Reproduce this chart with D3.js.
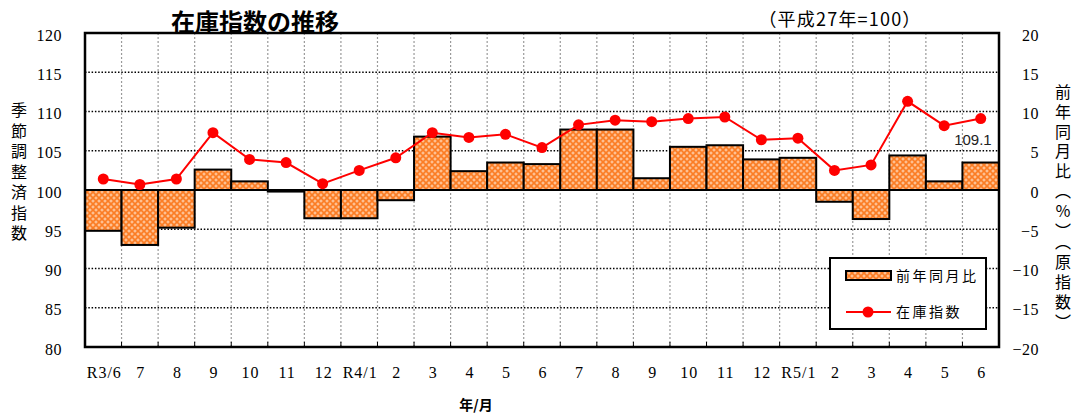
<!DOCTYPE html>
<html>
<head>
<meta charset="utf-8">
<script src="https://cdn.jsdelivr.net/npm/d3@7"></script>
<style>
  body { margin: 0; background: #fff; }
  #chart { width: 1074px; height: 414px; }
  .serif { font-family: "Liberation Serif", "DejaVu Serif", serif; }
  .jp { font-family: "Noto Sans CJK JP", "Noto Sans", sans-serif; }
  .sans { font-family: "Liberation Sans", Arial, sans-serif; }
</style>
</head>
<body>
<div id="chart"></div>
<script>
// data
const months = ["R3/6","7","8","9","10","11","12","R4/1","2","3","4","5","6",
                "7","8","9","10","11","12","R5/1","2","3","4","5","6"];
// 前年同月比 (%) - right axis
const yoy = [-5.2, -7.0, -4.8, 2.6, 1.1, -0.2, -3.6, -3.6, -1.3, 6.8, 2.4, 3.5, 3.3,
             7.7, 7.7, 1.5, 5.5, 5.7, 3.9, 4.1, -1.5, -3.7, 4.4, 1.1, 3.5];
// 在庫指数 (季節調整済) - left axis
const stock = [101.4, 100.7, 101.4, 107.3, 103.9, 103.5, 100.8, 102.5, 104.1, 107.3, 106.7, 107.1, 105.4,
               108.3, 108.9, 108.7, 109.1, 109.3, 106.4, 106.6, 102.5, 103.2, 111.3, 108.2, 109.1];
const leftTicks = [80, 85, 90, 95, 100, 105, 110, 115, 120];
const rightTicks = [-20, -15, -10, -5, 0, 5, 10, 15, 20];

const width = 1074, height = 414;
const margin = {top: 33, left: 85, right: 75, bottom: 67};

const svg = d3.select("#chart").append("svg")
    .attr("width", width)
    .attr("height", height);

// pattern for bars
const defs = svg.append("defs");
const pat = defs.append("pattern")
    .attr("id", "hatch")
    .attr("patternUnits", "userSpaceOnUse")
    .attr("width", 6).attr("height", 6);
pat.append("rect").attr("width", 6).attr("height", 6).attr("fill", "#fb7d24");
[[0,0],[6,0],[0,6],[6,6],[3,3]].forEach(function(p) {
    pat.append("rect").attr("x", p[0] - 1.5).attr("y", p[1] - 0.5).attr("width", 3).attr("height", 1).attr("fill", "#ffd6b5");
    pat.append("rect").attr("x", p[0] - 0.5).attr("y", p[1] - 1.5).attr("width", 1).attr("height", 3).attr("fill", "#ffd6b5");
});

// scales
const xScale = d3.scaleBand()
    .domain(d3.range(months.length))
    .range([margin.left, width - margin.right])
    .padding(0);

const yLeft = d3.scaleLinear()
    .domain([80, 120])
    .range([height - margin.bottom, margin.top]);

const yRight = d3.scaleLinear()
    .domain([-20, 20])
    .range([height - margin.bottom, margin.top]);

const x0 = margin.left, x1 = width - margin.right;
const yTop = margin.top, yBot = height - margin.bottom;

// grid lines
svg.append("g").selectAll("line")
    .data(d3.range(1, months.length))
    .enter().append("line")
    .attr("x1", function(i) { return xScale(i); })
    .attr("x2", function(i) { return xScale(i); })
    .attr("y1", yTop).attr("y2", yBot)
    .attr("stroke", "#9a9a9a")
    .attr("stroke-width", 1.2)
    .attr("stroke-dasharray", "2,2");

svg.append("g").selectAll("line")
    .data(leftTicks.slice(1, -1))
    .enter().append("line")
    .attr("x1", x0).attr("x2", x1)
    .attr("y1", function(d) { return yLeft(d); })
    .attr("y2", function(d) { return yLeft(d); })
    .attr("stroke", "#000")
    .attr("stroke-width", 1.5)
    .attr("stroke-dasharray", "1.5,1.8");

// bars
svg.append("g").selectAll("rect")
    .data(yoy)
    .enter().append("rect")
    .attr("x", function(d, i) { return xScale(i); })
    .attr("y", function(d) { return yRight(Math.max(0, d)); })
    .attr("width", xScale.bandwidth())
    .attr("height", function(d) { return Math.abs(yRight(d) - yRight(0)); })
    .attr("fill", "url(#hatch)")
    .attr("stroke", "#000")
    .attr("stroke-width", 2);

// bottom ticks (inward)
svg.append("g").selectAll("line")
    .data(d3.range(1, months.length))
    .enter().append("line")
    .attr("x1", function(i) { return xScale(i); })
    .attr("x2", function(i) { return xScale(i); })
    .attr("y1", yBot).attr("y2", yBot - 5)
    .attr("stroke", "#000")
    .attr("stroke-width", 1);

// line
const line = d3.line()
    .x(function(d, i) { return xScale(i) + xScale.bandwidth() / 2; })
    .y(function(d) { return yLeft(d); });

svg.append("path")
    .datum(stock)
    .attr("d", line)
    .attr("fill", "none")
    .attr("stroke", "#ff0000")
    .attr("stroke-width", 2);

svg.append("g").selectAll("circle")
    .data(stock)
    .enter().append("circle")
    .attr("cx", function(d, i) { return xScale(i) + xScale.bandwidth() / 2; })
    .attr("cy", function(d) { return yLeft(d); })
    .attr("r", 5.5)
    .attr("fill", "#ff0000");

// plot border
svg.append("rect")
    .attr("x", x0).attr("y", yTop)
    .attr("width", x1 - x0).attr("height", yBot - yTop)
    .attr("fill", "none")
    .attr("stroke", "#000")
    .attr("stroke-width", 2.5);

// last value label
svg.append("text")
    .attr("class", "sans")
    .attr("x", xScale(months.length - 1) + xScale.bandwidth() / 2 + 11)
    .attr("y", yLeft(stock[stock.length - 1]) + 26)
    .attr("text-anchor", "end")
    .attr("font-size", 15)
    .attr("fill", "#222")
    .text(stock[stock.length - 1].toFixed(1));

// axis labels
svg.append("g").selectAll("text")
    .data(leftTicks)
    .enter().append("text")
    .attr("class", "serif")
    .attr("x", 62)
    .attr("y", function(d) { return yLeft(d) + 4; })
    .attr("dominant-baseline", "middle")
    .attr("text-anchor", "end")
    .attr("font-size", 16)
    .attr("letter-spacing", 0.5)
    .text(function(d) { return d; });

svg.append("g").selectAll("text")
    .data(rightTicks)
    .enter().append("text")
    .attr("class", "serif")
    .attr("x", 1039)
    .attr("y", function(d) { return yRight(d) + 4; })
    .attr("dominant-baseline", "middle")
    .attr("text-anchor", "end")
    .attr("font-size", 16)
    .attr("letter-spacing", 0.5)
    .text(function(d) { return d < 0 ? "\u2212" + Math.abs(d) : d; });

svg.append("g").selectAll("text")
    .data(months)
    .enter().append("text")
    .attr("class", "serif")
    .attr("x", function(d, i) { return xScale(i) + xScale.bandwidth() / 2 + 1; })
    .attr("y", 374)
    .attr("dominant-baseline", "middle")
    .attr("text-anchor", "middle")
    .attr("font-size", 16)
    .attr("letter-spacing", 1)
    .text(function(d) { return d; });

// titles
svg.append("text")
    .attr("class", "jp")
    .attr("x", 255)
    .attr("y", 31)
    .attr("text-anchor", "middle")
    .attr("font-size", 24)
    .attr("font-weight", "bold")
    .text("在庫指数の推移");

svg.append("text")
    .attr("class", "jp")
    .attr("x", 840)
    .attr("y", 21)
    .attr("dominant-baseline", "middle")
    .attr("text-anchor", "middle")
    .attr("font-size", 18)
    .attr("letter-spacing", 1.2)
    .text("（平成27年=100）");

svg.append("text")
    .attr("class", "jp")
    .attr("x", 476)
    .attr("y", 406)
    .attr("dominant-baseline", "middle")
    .attr("text-anchor", "middle")
    .attr("font-size", 14)
    .attr("font-weight", "bold")
    .text("年/月");

svg.append("text")
    .attr("class", "jp")
    .attr("x", 19)
    .attr("y", 102)
    .attr("writing-mode", "vertical-rl")
    .attr("font-size", 16)
    .attr("letter-spacing", 4.5)
    .text("季節調整済指数");

svg.append("text")
    .attr("class", "jp")
    .attr("x", 1063)
    .attr("y", 84)
    .attr("writing-mode", "vertical-rl")
    .attr("font-size", 16)
    .attr("letter-spacing", 3.8)
    .text("前年同月比（％）（原指数）");

// legend
const legend = svg.append("g");
legend.append("rect")
    .attr("x", 830).attr("y", 258)
    .attr("width", 156).attr("height", 71)
    .attr("fill", "#fff")
    .attr("stroke", "#000")
    .attr("stroke-width", 2);
legend.append("rect")
    .attr("x", 846).attr("y", 271)
    .attr("width", 45).attr("height", 9)
    .attr("fill", "url(#hatch)")
    .attr("stroke", "#000")
    .attr("stroke-width", 2);
legend.append("text")
    .attr("class", "jp")
    .attr("x", 896).attr("y", 277)
    .attr("dominant-baseline", "middle")
    .attr("font-size", 14)
    .attr("letter-spacing", 2.5)
    .text("前年同月比");
legend.append("line")
    .attr("x1", 846).attr("x2", 891)
    .attr("y1", 312).attr("y2", 312)
    .attr("stroke", "#ff0000")
    .attr("stroke-width", 2);
legend.append("circle")
    .attr("cx", 868).attr("cy", 312)
    .attr("r", 5.5)
    .attr("fill", "#ff0000");
legend.append("text")
    .attr("class", "jp")
    .attr("x", 896).attr("y", 313)
    .attr("dominant-baseline", "middle")
    .attr("font-size", 14)
    .attr("letter-spacing", 2.5)
    .text("在庫指数");
</script>
</body>
</html>
